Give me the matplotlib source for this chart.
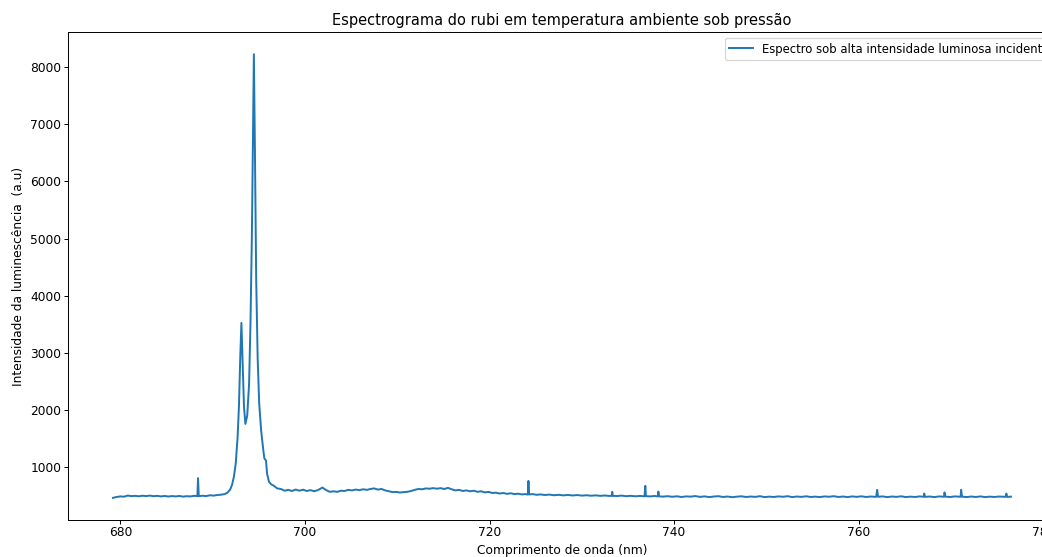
import matplotlib
matplotlib.use("Agg")
import matplotlib.pyplot as plt

# baseline before the ruby lines
wl_left = [679.2, 679.6, 680.0, 680.4, 680.8, 681.2, 681.6, 682.0, 682.4, 682.8,
           683.2, 683.6, 684.0, 684.4, 684.8, 685.2, 685.6, 686.0, 686.4, 686.8,
           687.2, 687.6, 688.0, 688.35, 688.42, 688.5, 688.9, 689.3, 689.7, 690.1,
           690.5, 690.9, 691.3, 691.6, 691.9]
int_left = [455, 470, 480, 475, 495, 485, 490, 482, 492, 486,
            494, 484, 490, 480, 488, 478, 486, 480, 488, 476,
            484, 480, 490, 486, 800, 484, 492, 486, 500, 494,
            504, 510, 520, 545, 600]

# R2 / R1 lines
wl_peaks = [692.1, 692.3, 692.5, 692.7, 692.85, 693.0, 693.12, 693.25, 693.4, 693.55,
            693.75, 693.95, 694.1, 694.25, 694.38, 694.47, 694.58, 694.72, 694.88, 695.05,
            695.25, 695.45, 695.6, 695.68, 695.78, 695.9, 696.1, 696.35, 696.6]
int_peaks = [680, 820, 1050, 1500, 2050, 2950, 3520, 2850, 2050, 1750,
             1900, 2450, 3500, 5000, 7000, 8230, 6600, 4300, 2900, 2100,
             1650, 1350, 1150, 1130, 1110, 880, 740, 690, 670]

# broad shoulder region
wl_mid = [697.0, 697.4, 697.8, 698.2, 698.6, 699.0, 699.4, 699.8, 700.2, 700.6,
          701.0, 701.4, 701.9, 702.3, 702.7, 703.1, 703.5, 703.9, 704.3, 704.7,
          705.1, 705.5, 705.9, 706.3, 706.7, 707.1, 707.5, 707.9, 708.3, 708.7,
          709.1, 709.5, 709.9, 710.3, 710.7, 711.1, 711.5, 711.9, 712.3, 712.7,
          713.1, 713.5, 713.9, 714.3, 714.7, 715.1, 715.5, 715.9, 716.3, 716.7,
          717.1, 717.5, 717.9, 718.3, 718.7, 719.1, 719.5, 719.9, 720.3, 720.7,
          721.1, 721.5, 721.9, 722.3, 722.7, 723.1, 723.5, 723.9, 724.15, 724.22,
          724.3, 724.7, 725.1, 725.5, 726.0, 726.5, 727.0, 727.5, 728.0, 728.5,
          729.0, 729.5, 730.0, 730.5, 731.0, 731.5, 732.0, 732.5, 733.0, 733.25,
          733.3, 733.35, 733.8, 734.3, 734.8, 735.3, 735.8, 736.3, 736.8, 736.88,
          736.95, 737.4, 737.9, 738.25, 738.3, 738.36, 738.8]
int_mid = [620, 610, 580, 595, 575, 600, 580, 598, 575, 590,
           570, 590, 635, 590, 560, 570, 560, 580, 575, 595,
           585, 600, 590, 605, 595, 610, 620, 600, 610, 585,
           570, 555, 560, 548, 555, 560, 575, 595, 610, 605,
           620, 615, 625, 615, 625, 610, 630, 605, 585, 595,
           575, 585, 570, 580, 560, 570, 550, 560, 540, 545,
           530, 540, 525, 535, 520, 528, 515, 520, 512, 752,
           515, 520, 508, 515, 505, 512, 500, 508, 498, 506,
           496, 504, 494, 500, 492, 498, 490, 496, 488, 492,
           560, 490, 486, 494, 484, 490, 482, 488, 482, 665,
           485, 480, 488, 480, 565, 482, 476]

# long flat tail
wl_right = [739.3, 739.8, 740.3, 740.8, 741.3, 741.8, 742.3, 742.8, 743.3, 743.8,
            744.3, 744.8, 745.3, 745.8, 746.3, 746.8, 747.3, 747.8, 748.3, 748.8,
            749.3, 749.8, 750.3, 750.8, 751.3, 751.8, 752.3, 752.8, 753.3, 753.8,
            754.3, 754.8, 755.3, 755.8, 756.3, 756.8, 757.3, 757.8, 758.3, 758.8,
            759.3, 759.8, 760.3, 760.8, 761.3, 761.9, 762.0, 762.1, 762.6, 763.1,
            763.6, 764.1, 764.6, 765.1, 765.6, 766.1, 766.6, 767.05, 767.1, 767.2,
            767.7, 768.2, 768.7, 769.25, 769.3, 769.4, 769.9, 770.4, 771.05, 771.1,
            771.2, 771.7, 772.2, 772.7, 773.2, 773.7, 774.2, 774.7, 775.2, 775.9,
            776.0, 776.1, 776.5]
int_right = [484, 474, 482, 470, 480, 476, 486, 472, 480, 468,
             478, 484, 470, 478, 466, 476, 482, 470, 478, 472,
             484, 468, 476, 470, 480, 474, 484, 468, 478, 472,
             482, 470, 476, 468, 480, 474, 484, 470, 478, 468,
             480, 472, 482, 470, 478, 472, 595, 474, 480, 468,
             478, 472, 482, 468, 476, 470, 480, 474, 530, 472,
             478, 468, 480, 474, 550, 476, 470, 480, 474, 595,
             476, 468, 478, 470, 480, 468, 476, 470, 478, 472,
             530, 470, 476]

wavelength = wl_left + wl_peaks + wl_mid + wl_right
intensity = int_left + int_peaks + int_mid + int_right

DPI = 88
fig = plt.figure(figsize=(1042 / DPI, 557 / DPI), dpi=DPI)
ax = fig.add_axes([0.0653, 0.0664, 0.948, 0.876])

ax.plot(wavelength, intensity, color="tab:blue", lw=1.6,
        label="Espectro sob alta intensidade luminosa incidente")
ax.set_title("Espectrograma do rubi em temperatura ambiente sob pressão")
ax.set_xlabel("Comprimento de onda (nm)")
ax.set_ylabel("Intensidade da luminescência  (a.u)")
ax.tick_params(axis="x", pad=1.5)
ax.tick_params(axis="y", pad=2)
# legend sits partly outside the cropped picture, as in the original
ax.legend(loc="upper right", fontsize=9.5, bbox_to_anchor=(1.004, 1.0))

fig.savefig("out.png", dpi=DPI)
